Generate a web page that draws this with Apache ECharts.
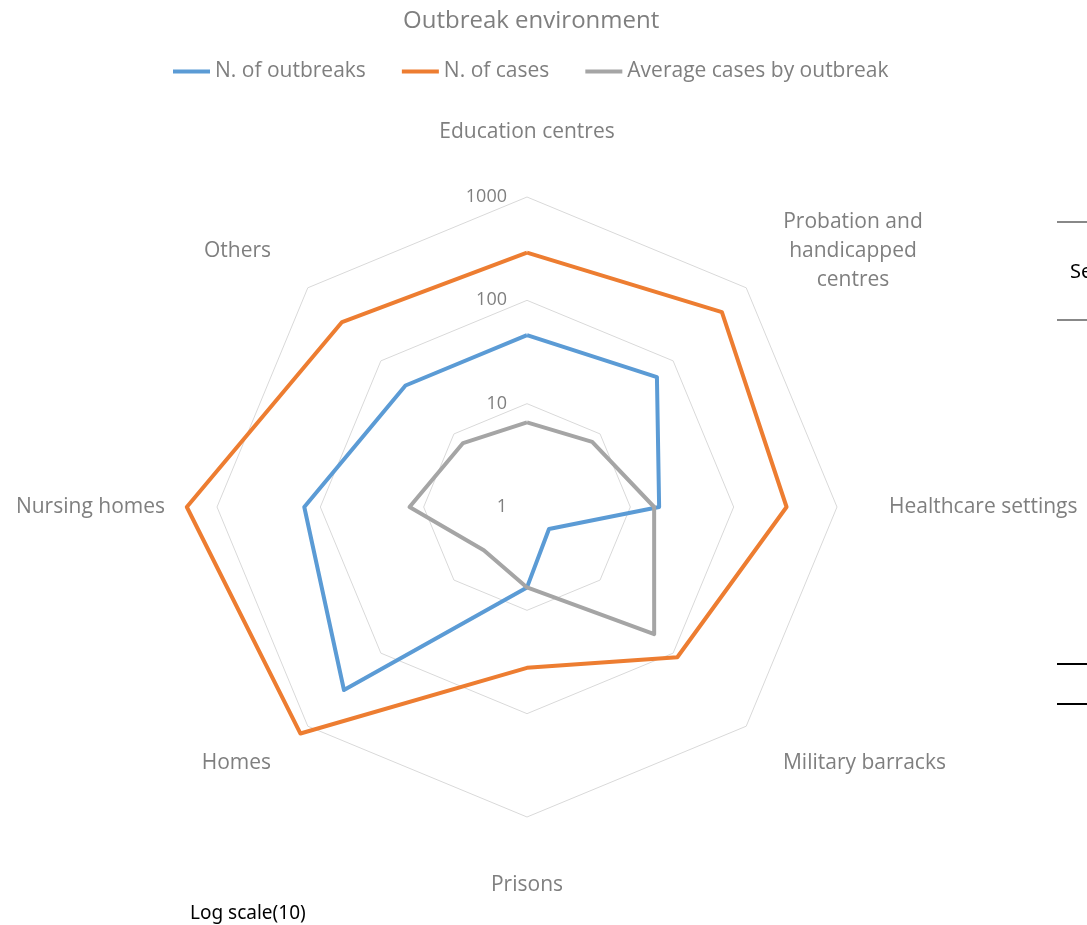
<!DOCTYPE html>
<html>
<head>
<meta charset="utf-8">
<script src="https://cdn.jsdelivr.net/npm/echarts@6/dist/echarts.min.js"></script>
<style>html,body{margin:0;padding:0;background:#fff}#c{width:1087px;height:925px}</style>
</head>
<body>
<div id="c"></div>
<script>
// Categories in clockwise order starting from top
const categories = ['Education centres', 'Probation and\nhandicapped\ncentres', 'Healthcare settings', 'Military barracks', 'Prisons', 'Homes', 'Nursing homes', 'Others'];
const outbreaks = [46, 60, 19, 2, 6, 320, 143, 46];
const cases = [290, 465, 325, 114, 36, 1260, 1960, 340];
const avgCases = [6.6, 7.8, 17, 55, 6, 3.9, 13.7, 7.5];
const tickLabels = ['1', '10', '100', '1000'];

// ECharts places radar indicators counter-clockwise; reorder to clockwise
function reorder(arr) { return [arr[0]].concat(arr.slice(1).reverse()); }
const log = v => Math.log10(v);

const cats = reorder(categories);
const indicator = cats.map((name, i) => {
  const o = { name: name, min: 0, max: 3 };
  if (i !== 0) o.axisLabel = { show: false };
  if (name === 'Education centres') o.nameTextStyle = { padding: [0, 0, 2, 0] };
  if (name === 'Prisons') o.nameTextStyle = { padding: [6, 0, 0, 0] };
  return o;
});

const chart = echarts.init(document.getElementById('c'));
const FONT = 'Open Sans';
chart.setOption({
  animation: false,
  title: {
    text: 'Outbreak environment', left: 398, top: 4,
    textStyle: { fontFamily: FONT, fontSize: 24, fontWeight: 'normal', color: '#7f7f7f' }
  },
  legend: {
    top: 56, left: 168, itemWidth: 37, itemHeight: 4, itemGap: 36, icon: 'rect',
    textStyle: { fontFamily: FONT, fontSize: 21, color: '#7f7f7f' },
    data: ['N. of outbreaks', 'N. of cases', 'Average cases by outbreak']
  },
  radar: {
    center: [527, 507], radius: 310, startAngle: 90,
    splitNumber: 3, shape: 'polygon',
    axisName: {
      color: '#7f7f7f', fontFamily: FONT, fontSize: 21,
      formatter: function (v) {
        if (v.indexOf('\n') >= 0) return v.split('\n').map(s => '{m|' + s + '}').join('\n');
        return v;
      },
      rich: { m: { width: 140, align: 'center', fontFamily: FONT, fontSize: 21, color: '#7f7f7f', lineHeight: 29 } }
    },
    nameGap: 52,
    axisLine: { show: false },
    axisTick: { show: false },
    splitLine: { lineStyle: { color: '#d9d9d9', width: 1 } },
    splitArea: { show: false },
    axisLabel: {
      show: true, color: '#7f7f7f', fontFamily: FONT, fontSize: 18, margin: 20,
      formatter: function (v) { return tickLabels[Math.round(v)]; }
    },
    indicator: indicator
  },
  series: [{
    type: 'radar', symbol: 'none',
    data: [
      { name: 'N. of outbreaks', value: reorder(outbreaks).map(log), lineStyle: { color: '#5B9BD5', width: 4 }, itemStyle: { color: '#5B9BD5' } },
      { name: 'N. of cases', value: reorder(cases).map(log), lineStyle: { color: '#ED7D31', width: 4 }, itemStyle: { color: '#ED7D31' } },
      { name: 'Average cases by outbreak', value: reorder(avgCases).map(log), lineStyle: { color: '#A5A5A5', width: 4 }, itemStyle: { color: '#A5A5A5' } }
    ]
  }],
  graphic: [
    { type: 'text', left: 190, top: 904, style: { text: 'Log scale(10)', fill: '#000', font: '19px "Noto Sans"' } },
    { type: 'line', shape: { x1: 1057, y1: 222, x2: 1087, y2: 222 }, style: { stroke: '#888', lineWidth: 2 } },
    { type: 'line', shape: { x1: 1057, y1: 320, x2: 1087, y2: 320 }, style: { stroke: '#888', lineWidth: 2 } },
    { type: 'text', left: 1070, top: 262, style: { text: 'Se', fill: '#000', font: '20px "Noto Sans"' } },
    { type: 'line', shape: { x1: 1057, y1: 664, x2: 1087, y2: 664 }, style: { stroke: '#000', lineWidth: 2 } },
    { type: 'line', shape: { x1: 1057, y1: 704, x2: 1087, y2: 704 }, style: { stroke: '#000', lineWidth: 2 } }
  ]
});
</script>
</body>
</html>
